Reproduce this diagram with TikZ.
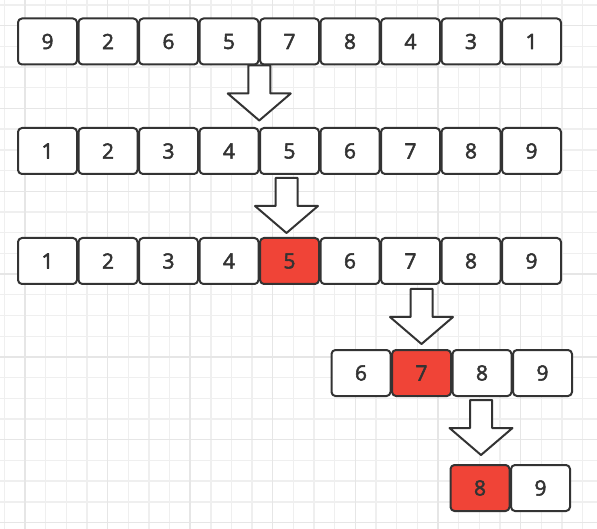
\documentclass[tikz,border=0pt]{standalone}
\usepackage{fontspec}
\setmainfont{Open Sans}
\newfontfamily\cellfont[FakeBold=2.5]{Open Sans}
\usetikzlibrary{calc}
\definecolor{boxline}{HTML}{333333}
\definecolor{hot}{HTML}{F04437}
\definecolor{gridmin}{HTML}{EFEFEF}
\definecolor{gridmaj}{HTML}{E6E6E6}

\begin{document}
\begin{tikzpicture}[x=1pt,y=-1pt,line join=round]
\tikzstyle{cell}=[draw=boxline,line width=2pt,rounded corners=4pt,minimum width=59pt,minimum height=46pt,fill=white,text=boxline,font=\cellfont\fontsize{21}{25}\selectfont,inner sep=0pt]
\tikzstyle{pick}=[cell,fill=hot]
\tikzset{down/.pic={\draw[boxline,line width=2pt,fill=white] (-11,0) -- (11,0) -- (11,28) -- (31.5,28) -- (0,55) -- (-31.5,28) -- (-11,28) -- cycle;}}
% paper grid
\fill[white] (0,0) rectangle (597,529);
\useasboundingbox (0,0) rectangle (597,529);
\foreach \k in {0,...,28} \draw[gridmin,line width=1.4pt] (4.3+20.65*\k,0) -- (4.3+20.65*\k,529);
\foreach \k in {0,...,25} \draw[gridmin,line width=1.4pt] (0,5+20.7*\k) -- (597,5+20.7*\k);
\foreach \k in {1,5,...,25} \draw[gridmaj,line width=1.4pt] (4.3+20.65*\k,0) -- (4.3+20.65*\k,529);
\foreach \k in {1,5,...,25} \draw[gridmaj,line width=1.4pt] (0,5+20.7*\k) -- (597,5+20.7*\k);
% rows
\foreach \v [count=\i] in {9,2,6,5,7,8,4,3,1}
  \node[cell] (a\i) at (47.5+60.5*\i-60.5,41.5) {\v};
\foreach \v [count=\i] in {1,...,9}
  \node[cell] (b\i) at (47.5+60.5*\i-60.5,151) {\v};
\foreach \v/\s [count=\i] in {1/cell,2/cell,3/cell,4/cell,5/pick,6/cell,7/cell,8/cell,9/cell}
  \node[\s] (c\i) at (47.5+60.5*\i-60.5,261) {\v};
\foreach \v/\s [count=\i] in {6/cell,7/pick,8/cell,9/cell}
  \node[\s] (d\i) at (361+60.5*\i-60.5,373) {\v};
\node[pick] (e1) at (480,488) {8};
\node[cell] (e2) at (540.5,488) {9};
% steps
\path ($(a4.south east)!.5!(a5.south west)$) pic {down};
\path (b5.south) ++(-3,3) pic {down};
\path (d2.north |- c7.south) ++(0,4) pic {down};
\path (e1.north |- d3.south) ++(1,3) pic {down};
\end{tikzpicture}
\end{document}
